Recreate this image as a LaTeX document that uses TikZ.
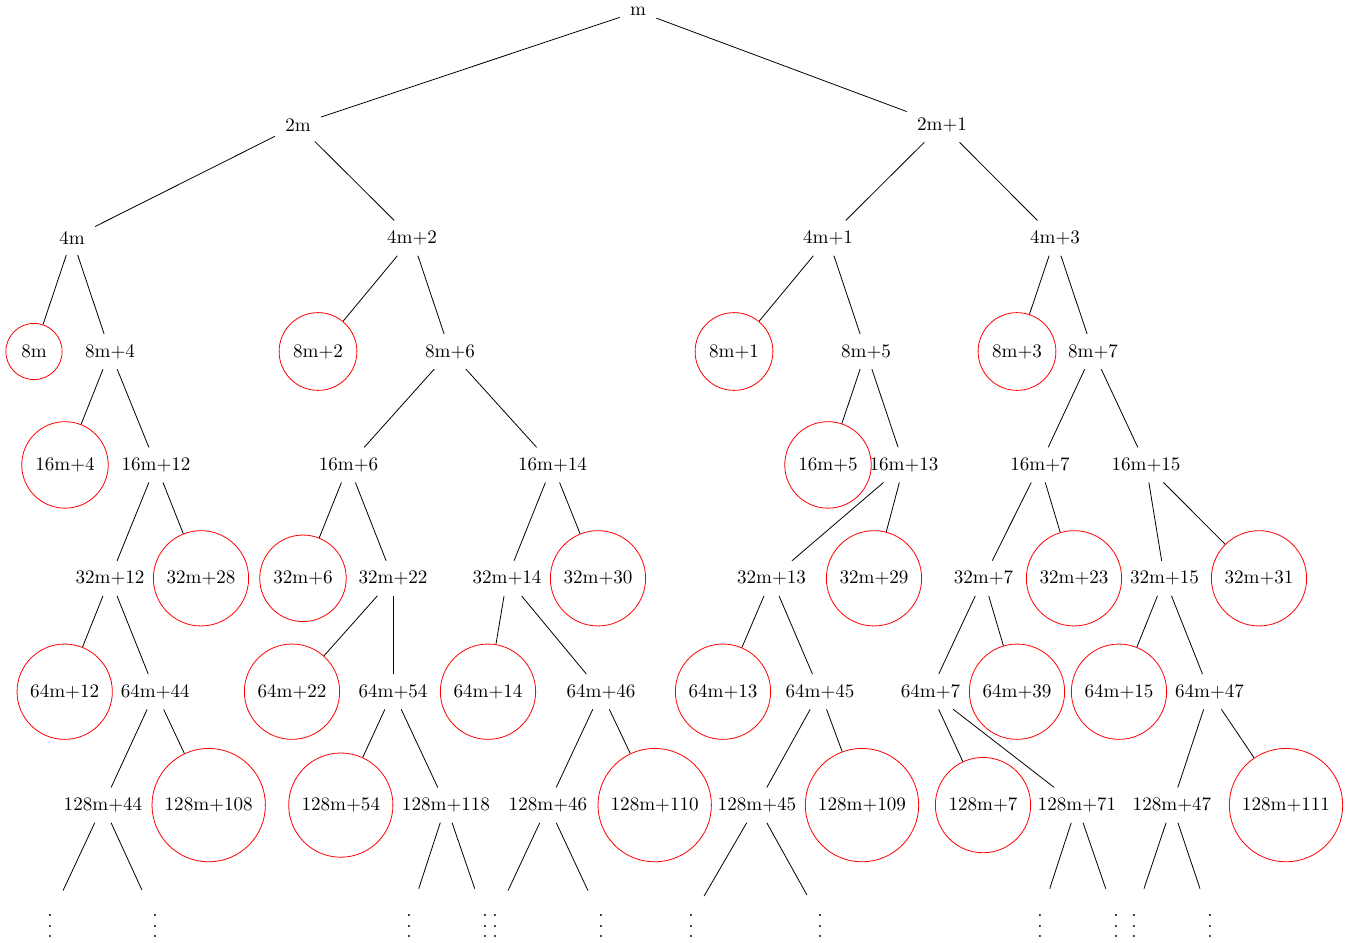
\documentclass[tikz,border=0pt]{standalone}
\newcommand{\treedots}{\vbox{\baselineskip5.4pt\lineskiplimit0pt\kern7.6pt\hbox{.}\hbox{.}\hbox{.}}}
\begin{document}
\begin{tikzpicture}[x=0.5pt,y=-0.5pt,
  every node/.style={font=\fontsize{9.55pt}{11pt}\selectfont, inner sep=5pt},
  leaf/.style={circle, draw=red},
  edge/.style={draw=black, line width=0.4pt}]
\useasboundingbox (0,0) rectangle (1346,943);
% level rows
\def\yA{11.3}\def\yB{124.7}\def\yC{238.1}\def\yD{351.5}
\def\yE{464.9}\def\yF{578.3}\def\yG{691.7}\def\yH{805.1}\def\yI{918.5}
% level 0-2
\node (m) at (638,\yA) {m};
\node (a0) at (298,\yB) {2m};
\node (a1) at (942,\yB) {2m+1};
\node (b0) at (72,\yC) {4m};
\node (b2) at (412,\yC) {4m+2};
\node (b1) at (828,\yC) {4m+1};
\node (b3) at (1055,\yC) {4m+3};
% level 3
\node[leaf] (c0) at (34,\yD) {8m};
\node (c4) at (110,\yD) {8m+4};
\node[leaf] (c2) at (318,\yD) {8m+2};
\node (c6) at (450,\yD) {8m+6};
\node[leaf] (c1) at (734,\yD) {8m+1};
\node (c5) at (866,\yD) {8m+5};
\node[leaf] (c3) at (1017,\yD) {8m+3};
\node (c7) at (1093,\yD) {8m+7};
% level 4
\node[leaf] (d4) at (65,\yE) {16m+4};
\node (d12) at (156,\yE) {16m+12};
\node (d6) at (348.5,\yE) {16m+6};
\node (d14) at (552.5,\yE) {16m+14};
\node[leaf] (d5) at (828,\yE) {16m+5};
\node (d13) at (904,\yE) {16m+13};
\node (d7) at (1040,\yE) {16m+7};
\node (d15) at (1146,\yE) {16m+15};
% level 5
\node (e12) at (110,\yF) {32m+12};
\node[leaf] (e28) at (201,\yF) {32m+28};
\node[leaf] (e6) at (303,\yF) {32m+6};
\node (e22) at (393,\yF) {32m+22};
\node (e14) at (507,\yF) {32m+14};
\node[leaf] (e30) at (598,\yF) {32m+30};
\node (e13) at (771.5,\yF) {32m+13};
\node[leaf] (e29) at (874,\yF) {32m+29};
\node (e7) at (983.5,\yF) {32m+7};
\node[leaf] (e23) at (1074,\yF) {32m+23};
\node (e15) at (1164.5,\yF) {32m+15};
\node[leaf] (e31) at (1259,\yF) {32m+31};
% level 6
\node[leaf] (f12) at (64.7,\yG) {64m+12};
\node (f44) at (155.3,\yG) {64m+44};
\node[leaf] (f22) at (292,\yG) {64m+22};
\node (f54) at (393,\yG) {64m+54};
\node[leaf] (f14) at (488,\yG) {64m+14};
\node (f46) at (601,\yG) {64m+46};
\node[leaf] (f13) at (723,\yG) {64m+13};
\node (f45) at (820,\yG) {64m+45};
\node (f7) at (930.5,\yG) {64m+7};
\node[leaf] (f39) at (1017,\yG) {64m+39};
\node[leaf] (f15) at (1119,\yG) {64m+15};
\node (f47) at (1209.5,\yG) {64m+47};
% level 7
\node (g44) at (103,\yH) {128m+44};
\node[leaf] (g108) at (208.7,\yH) {128m+108};
\node[leaf] (g54) at (340.8,\yH) {128m+54};
\node (g118) at (446,\yH) {128m+118};
\node (g46) at (548,\yH) {128m+46};
\node[leaf] (g110) at (654.7,\yH) {128m+110};
\node (g45) at (757,\yH) {128m+45};
\node[leaf] (g109) at (862,\yH) {128m+109};
\node[leaf] (g7) at (983,\yH) {128m+7};
\node (g71) at (1077,\yH) {128m+71};
\node (g47) at (1172,\yH) {128m+47};
\node[leaf] (g111) at (1286,\yH) {128m+111};
% continuation dots
\node (h1) at (50,\yI) {\treedots};
\node (h2) at (155,\yI) {\treedots};
\node (h3) at (409,\yI) {\treedots};
\node (h4) at (485,\yI) {\treedots};
\node (h5) at (495,\yI) {\treedots};
\node (h6) at (601,\yI) {\treedots};
\node (h7) at (691,\yI) {\treedots};
\node (h8) at (820,\yI) {\treedots};
\node (h9) at (1040,\yI) {\treedots};
\node (h10) at (1116,\yI) {\treedots};
\node (h11) at (1134,\yI) {\treedots};
\node (h12) at (1210,\yI) {\treedots};
% edges
\foreach \p/\l/\r in {m/a0/a1, a0/b0/b2, a1/b1/b3,
  b0/c0/c4, b2/c2/c6, b1/c1/c5, b3/c3/c7,
  c4/d4/d12, c6/d6/d14, c5/d5/d13, c7/d7/d15,
  d12/e12/e28, d6/e6/e22, d14/e14/e30, d13/e13/e29, d7/e7/e23, d15/e15/e31,
  e12/f12/f44, e22/f22/f54, e14/f14/f46, e13/f13/f45, e7/f7/f39, e15/f15/f47,
  f44/g44/g108, f54/g54/g118, f46/g46/g110, f45/g45/g109, f7/g7/g71, f47/g47/g111,
  g44/h1/h2, g118/h3/h4, g46/h5/h6, g45/h7/h8, g71/h9/h10, g47/h11/h12}
  {\draw[edge] (\p) -- (\l); \draw[edge] (\p) -- (\r);}
\end{tikzpicture}
\end{document}
